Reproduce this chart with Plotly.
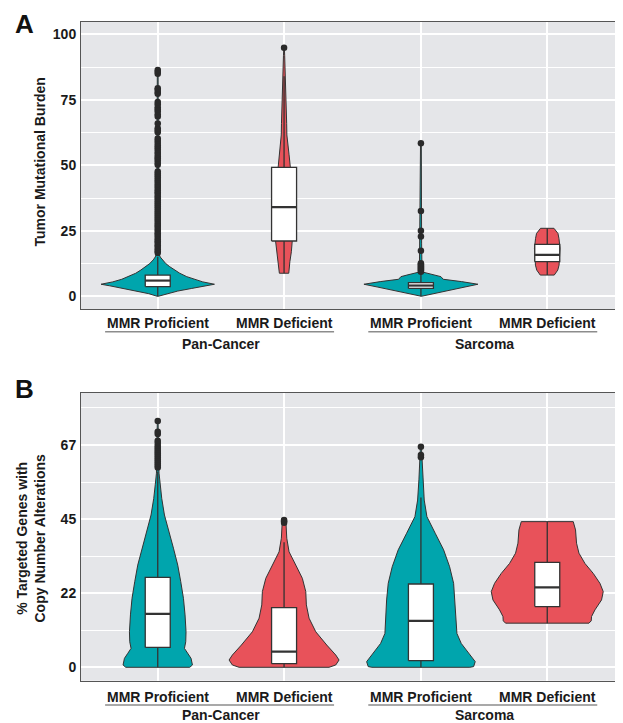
import plotly.graph_objects as go

# ---------------- categories ----------------
groups = ["Pan-Cancer", "Sarcoma"]
statuses = ["MMR Proficient", "MMR Deficient"]
group_centers = [1, 2]
DODGE = 0.24
PX_PER_UNIT = 263.2  # violin density values below are half-widths in px at chart scale
BOX_W = 0.095        # box width in x units

# ---------------- Panel A : Tumor Mutational Burden ----------------
a_pan_prof_vals = [0, 1.0, 2.0, 3.0, 4.0, 4.6, 5.5, 6.5, 7.5, 8.8, 10, 11.3, 12.5, 13.9, 15.0, 16.0, 20, 30, 40, 50, 60, 70, 80, 86.4]
a_pan_prof_dens = [0.5, 9, 20, 34, 48, 56.7, 45, 36, 29, 22, 17, 12, 8, 4.5, 2.5, 1.5, 1.0, 0.8, 0.8, 0.7, 0.7, 0.6, 0.6, 0.4]
a_pan_prof_box = dict(q1=3.7, median=6.0, q3=8.1, low=0.0, high=15.0)
a_pan_prof_out = [16.5, 17.2, 18.0, 18.8, 19.5, 20.3, 21.0, 21.8, 22.6, 23.4, 24.1, 24.9, 25.7, 26.5,
                  27.2, 28.0, 28.8, 29.6, 30.4, 31.1, 31.9, 32.7, 33.5, 34.3, 35.0, 35.8, 36.6, 37.4,
                  38.2, 39.0, 39.7, 40.5, 41.3, 42.1, 42.9, 43.7, 44.5, 45.3, 46.1, 46.9, 47.6, 50.2,
                  51.0, 51.9, 52.7, 53.4, 54.3, 55.1, 56.0, 56.8, 57.6, 58.5, 59.4, 60.2, 62.6, 63.4,
                  64.1, 66.0, 68.6, 69.5, 70.6, 71.4, 72.2, 73.3, 74.2, 77.3, 78.0, 78.8, 79.4, 84.9,
                  85.7, 86.4]

a_pan_def_vals = [8.8, 10, 13.2, 17, 21.1, 25, 30, 35, 40, 45, 49.2, 54, 58, 61.6, 66, 70, 74.3, 80, 84, 88, 92, 94.9]
a_pan_def_dens = [4.7, 5.2, 5.8, 7.3, 8.5, 9.0, 8.8, 8.2, 7.5, 7.0, 6.3, 5.0, 3.8, 2.8, 2.6, 2.4, 2.2, 1.8, 1.3, 1.0, 0.6, 0.3]
a_pan_def_box = dict(q1=21.1, median=34.0, q3=49.2, low=8.8, high=84.0)
a_pan_def_out = [94.9]

a_sar_prof_vals = [0, 1.2, 2.4, 3.5, 4.6, 5.6, 6.5, 7.5, 8.1, 8.8, 9.2, 10.5, 12.6, 20, 30, 40, 50, 58.4]
a_sar_prof_dens = [0.5, 15, 29, 43, 57, 40.7, 22.3, 20, 14, 5.7, 2.3, 1.5, 1.0, 0.7, 0.7, 0.6, 0.6, 0.4]
a_sar_prof_box = dict(q1=3.0, median=4.1, q3=5.2, low=0.0, high=8.6)
a_sar_prof_out = [9.4, 9.8, 10.2, 10.6, 11.0, 11.4, 11.8, 12.2, 12.6, 17.4, 22.8, 25.0, 32.6, 58.4]

a_sar_def_vals = [8.1, 10.0, 11.9, 14.5, 18.3, 22.1, 24.0, 25.95]
a_sar_def_dens = [7.0, 10.5, 11.8, 12.5, 12.8, 11.7, 10.7, 6.7]
a_sar_def_box = dict(q1=13.2, median=15.8, q3=19.8, low=8.1, high=25.95)
a_sar_def_out = []

# ---------------- Panel B : % targeted genes with CNA ----------------
b_pan_prof_vals = [0, 0.7, 2.7, 4.2, 5.7, 7.7, 10.7, 15.8, 20.8, 25.8, 30.8, 35.9, 40.9, 45.9, 50.9, 55, 58.5, 62, 68, 74.2]
b_pan_prof_dens = [32, 34.7, 33.3, 30, 26.7, 28, 28.3, 27.3, 25.7, 23, 20, 15.7, 11.3, 6.7, 4, 2.5, 1.3, 0.8, 0.6, 0.4]
b_pan_prof_box = dict(q1=6.0, median=16.1, q3=27.1, low=0.0, high=59.0)
b_pan_prof_out = [60.2, 60.8, 61.4, 62.0, 62.6, 63.2, 63.8, 64.4, 65.0, 65.6, 66.2, 66.8, 67.6, 68.3, 70.3, 71.0, 74.2]

b_pan_def_vals = [0, 0.7, 2.2, 3.7, 6.7, 10.7, 14.8, 18.8, 22.8, 26.8, 30.8, 34.8, 38.9, 43.0, 44.4]
b_pan_def_dens = [45, 51.7, 55, 51.7, 42.7, 31.7, 25, 22.3, 21.7, 18.3, 11.7, 5, 2.7, 2.0, 1.0]
b_pan_def_box = dict(q1=1.1, median=4.7, q3=18.0, low=0.0, high=37.7)
b_pan_def_out = [43.6, 44.0, 44.4]

b_sar_prof_vals = [0, 0.2, 1.7, 4.2, 7.2, 10.2, 15.3, 20.3, 25.3, 30.3, 35.4, 40.4, 45.4, 50.4, 56.5, 62.5, 66.5]
b_sar_prof_dens = [49, 52.7, 54.3, 47.7, 40.3, 36, 35, 34.3, 32.7, 28.7, 22.7, 14.3, 6, 3.3, 2, 1, 0.5]
b_sar_prof_box = dict(q1=2.0, median=14.0, q3=25.1, low=0.0, high=51.2)
b_sar_prof_out = [63.3, 64.0, 66.5]

b_sar_def_vals = [13.3, 14.0, 15.3, 17.3, 20.3, 22.8, 25.3, 28.3, 31.3, 34.4, 37.4, 41.4, 43.9]
b_sar_def_dens = [41.7, 44, 44.3, 47.7, 54.3, 56, 52.7, 46, 37.7, 31.7, 29.3, 28.3, 26]
b_sar_def_box = dict(q1=18.3, median=24.1, q3=31.6, low=13.3, high=43.9)
b_sar_def_out = []

a_ticks = [0, 25, 50, 75, 100]
a_ticktext = ["0", "25", "50", "75", "100"]
a_minor = [12.5, 37.5, 62.5, 87.5]
b_ticks = [0, 22.33, 44.67, 67]
b_ticktext = ["0", "22", "45", "67"]
b_minor = [11.17, 33.5, 55.83, 78.17]

# ---------------- styling ----------------
TEAL = "#00A5AD"
RED = "#E8525A"
OUTLINE = "#333333"
BG = "#E5E6E9"
FONT = "Liberation Sans, Arial, sans-serif"
TXT = "#1a1a1a"

positions = [g + s * DODGE for g in group_centers for s in (-1, 1)]
colors = [TEAL, RED, TEAL, RED]

panels = [
    ("x", "y", [
        (a_pan_prof_vals, a_pan_prof_dens, a_pan_prof_box, a_pan_prof_out),
        (a_pan_def_vals, a_pan_def_dens, a_pan_def_box, a_pan_def_out),
        (a_sar_prof_vals, a_sar_prof_dens, a_sar_prof_box, a_sar_prof_out),
        (a_sar_def_vals, a_sar_def_dens, a_sar_def_box, a_sar_def_out),
    ]),
    ("x2", "y2", [
        (b_pan_prof_vals, b_pan_prof_dens, b_pan_prof_box, b_pan_prof_out),
        (b_pan_def_vals, b_pan_def_dens, b_pan_def_box, b_pan_def_out),
        (b_sar_prof_vals, b_sar_prof_dens, b_sar_prof_box, b_sar_prof_out),
        (b_sar_def_vals, b_sar_def_dens, b_sar_def_box, b_sar_def_out),
    ]),
]


def line_trace(xs, ys, xa, ya, width, color=OUTLINE, fill=None):
    kw = dict(x=xs, y=ys, mode="lines", line=dict(color=color, width=width),
              xaxis=xa, yaxis=ya, hoverinfo="skip", showlegend=False)
    if fill:
        kw.update(fill="toself", fillcolor=fill)
    return go.Scatter(**kw)


fig = go.Figure()
for xa, ya, items in panels:
    for pos, col, (vals, dens, box, outs) in zip(positions, colors, items):
        # violin outline (density profile mirrored)
        right = [pos + d / PX_PER_UNIT for d in dens]
        left = [pos - d / PX_PER_UNIT for d in dens]
        xs = right + left[::-1] + [right[0]]
        ys = list(vals) + list(vals[::-1]) + [vals[0]]
        fig.add_trace(line_trace(xs, ys, xa, ya, 1, fill=col))
        # whiskers
        fig.add_trace(line_trace([pos, pos], [box["low"], box["q1"]], xa, ya, 1.3))
        fig.add_trace(line_trace([pos, pos], [box["q3"], box["high"]], xa, ya, 1.3))
        # box
        h = BOX_W / 2
        fig.add_trace(line_trace([pos - h, pos + h, pos + h, pos - h, pos - h],
                                 [box["q1"], box["q1"], box["q3"], box["q3"], box["q1"]],
                                 xa, ya, 1.3, fill="white"))
        # median
        fig.add_trace(line_trace([pos - h, pos + h], [box["median"], box["median"]], xa, ya, 2.2))
        if outs:
            fig.add_trace(go.Scatter(x=[pos] * len(outs), y=outs, mode="markers",
                                     marker=dict(color="#2a2a2a", size=6.5),
                                     xaxis=xa, yaxis=ya, showlegend=False, hoverinfo="skip"))

# the page adds an 8px body margin; figure coordinates below are reference pixels minus 8
OFF = 8
W, H = 615, 715


def px_x(v):
    return (v - OFF) / W


def px_y(v):
    return 1 - (v - OFF) / H


xdom = [px_x(81), min(1.0, px_x(622.7))]
ydomA = [px_y(309), px_y(22)]
ydomB = [px_y(680.7), px_y(392.7)]

xcommon = dict(range=[0.4684, 2.5267], domain=xdom, tickmode="array", tickvals=positions,
               showticklabels=False, showgrid=True, gridcolor="white", gridwidth=1.5,
               zeroline=False, showline=True, mirror=True, linecolor="#555555", linewidth=1,
               ticks="")


def yaxis(dom, rng, tv, tt, minor):
    return dict(domain=dom, range=rng, tickmode="array", tickvals=tv, ticktext=tt,
                showgrid=True, gridcolor="white", gridwidth=1.5, zeroline=False,
                showline=True, mirror=True, linecolor="#555555", linewidth=1, ticks="",
                ticklabelstandoff=1,
                tickfont=dict(family=FONT, size=14, color=TXT, weight="bold"),
                minor=dict(tickmode="array", tickvals=minor, showgrid=True,
                           gridcolor="white", gridwidth=0.8))


fig.update_layout(
    width=W, height=H, margin=dict(l=0, r=0, t=0, b=0),
    paper_bgcolor="white", plot_bgcolor=BG,
    xaxis=dict(anchor="y", **xcommon),
    xaxis2=dict(anchor="y2", **xcommon),
    yaxis=dict(anchor="x", **yaxis(ydomA, [-4.85, 104.7], a_ticks, a_ticktext, a_minor)),
    yaxis2=dict(anchor="x2", **yaxis(ydomB, [-4.04, 82.76], b_ticks, b_ticktext, b_minor)),
    font=dict(family=FONT, color=TXT),
)

ann = []
shapes = []
for xa, tick_y, line_y, grp_y in (("x", 322.7, 331.7, 343.5), ("x2", 696.7, 705.0, 715.0)):
    for pos, st in zip(positions, statuses * 2):
        ann.append(dict(x=pos, y=px_y(tick_y), xref=xa, yref="paper", text="<b>%s</b>" % st,
                        showarrow=False, yanchor="middle", xanchor="center",
                        font=dict(family=FONT, size=14, color=TXT)))
    for g, name in zip(group_centers, groups):
        shapes.append(dict(type="line", xref=xa, yref="paper", x0=g - 0.44, x1=g + 0.43,
                           y0=px_y(line_y), y1=px_y(line_y),
                           line=dict(color="#8c8c8c", width=1.5)))
        ann.append(dict(x=g, y=px_y(grp_y), xref=xa, yref="paper", text="<b>%s</b>" % name,
                        showarrow=False, yanchor="middle", xanchor="center",
                        font=dict(family=FONT, size=14, color=TXT)))

# y axis titles
ann.append(dict(x=px_x(39.5), y=px_y(162), xref="paper", yref="paper",
                text="<b>Tumor Mutational Burden</b>", textangle=-90, showarrow=False,
                xanchor="center", yanchor="middle", font=dict(family=FONT, size=14, color=TXT)))
ann.append(dict(x=px_x(30.5), y=px_y(539), xref="paper", yref="paper",
                text="<b>% Targeted Genes with<br>Copy Number Alterations</b>", textangle=-90,
                showarrow=False, xanchor="center", yanchor="middle",
                font=dict(family=FONT, size=14, color=TXT)))
# panel letters
ann.append(dict(x=px_x(24.5), y=1.0, xref="paper", yref="paper", text="<b>A</b>",
                showarrow=False, xanchor="center", yanchor="top", borderpad=0,
                font=dict(family=FONT, size=26, color="#111111")))
ann.append(dict(x=px_x(24.5), y=px_y(388.5), xref="paper", yref="paper", text="<b>B</b>",
                showarrow=False, xanchor="center", yanchor="middle",
                font=dict(family=FONT, size=26, color="#111111")))

fig.update_layout(annotations=ann, shapes=shapes)
fig.write_html("out.html")
